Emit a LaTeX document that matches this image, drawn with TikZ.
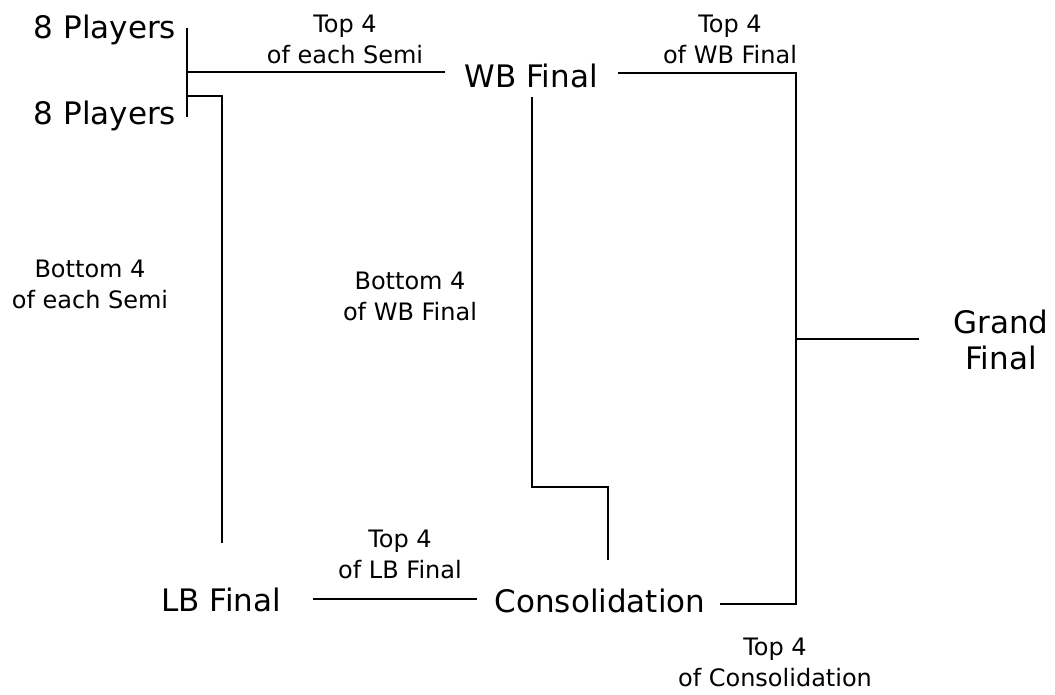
\documentclass[tikz,border=0pt]{standalone}
\usepackage{fontspec}
\setmainfont{DejaVu Sans}
\begin{document}
\begin{tikzpicture}[x=1pt,y=-1pt,
  big/.style={font=\fontsize{31}{36}\selectfont, inner sep=0pt, anchor=center},
  lbl/.style={font=\fontsize{24}{31}\selectfont, inner sep=0pt, align=center, anchor=center},
  conn/.style={line width=1.4pt, black}]
\useasboundingbox[fill=white] (0,0) rectangle (1055,695);
% main nodes
\node[big] (p1) at (105,30) {8 Players};
\node[big] (p2) at (105,116) {8 Players};
\node[big] (wb) at (531,76) {WB Final};
\node[big] (lb) at (221,600) {LB Final};
\node[big] (cons) at (600,601) {Consolidation};
\node[big, align=center] (gf) at (1001,340) {Grand\\Final};
% labels
\node[lbl] (l1) at (345,39) {Top 4\\of each Semi};
\node[lbl] (l2) at (730,39) {Top 4\\of WB Final};
\node[lbl] (l3) at (90,284) {Bottom 4\\of each Semi};
\node[lbl] (l4) at (410,296) {Bottom 4\\of WB Final};
\node[lbl] (l5) at (400,554) {Top 4\\of LB Final};
\node[lbl] (l6) at (775,662) {Top 4\\of Consolidation};
% junction coordinates
\coordinate (sT) at (187,28);
\coordinate (sB) at (187,117);
\coordinate (sM) at (187,72);
\coordinate (sW) at (445,72);
\coordinate (sL0) at (187,96);
\coordinate (sL1) at (222,96);
\coordinate (sL2) at (222,543);
\coordinate (w0) at (618,73);
\coordinate (gT) at (796,73);
\coordinate (gB) at (796,604);
\coordinate (gM) at (796,339);
\coordinate (gR) at (919,339);
\coordinate (d0) at (532,97);
\coordinate (d1) at (532,487);
\coordinate (d2) at (608,487);
\coordinate (d3) at (608,560);
\coordinate (lbR) at (313,599);
\coordinate (cL) at (477,599);
\coordinate (cR) at (720,604);
% connectors
\draw[conn] (sT) -- (sB);
\draw[conn] (sM) -- (sW);
\draw[conn] (sL0) -- (sL1) -- (sL2);
\draw[conn] (w0) -- (gT) -- (gB) -- (cR);
\draw[conn] (gM) -- (gR);
\draw[conn] (d0) -- (d1) -- (d2) -- (d3);
\draw[conn] (lbR) -- (cL);
\end{tikzpicture}
\end{document}
